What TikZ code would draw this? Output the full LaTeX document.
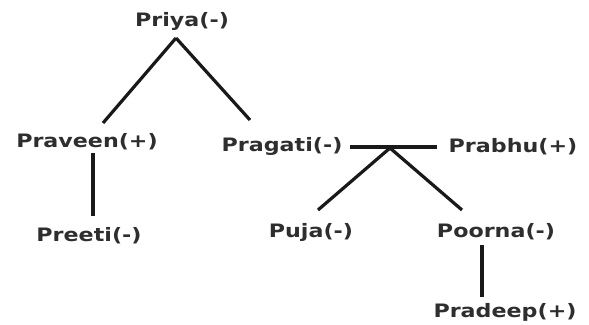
\documentclass[tikz,border=0pt]{standalone}
\usepackage{fontspec}
\setmainfont{DejaVu Sans}[FakeStretch=1.2]
\usetikzlibrary{calc}
\definecolor{txt}{HTML}{2E2E2E}
\begin{document}
\begin{tikzpicture}[x=1pt,y=-1pt,
  lbl/.style={font=\bfseries\fontsize{18.5}{20}\selectfont, text=txt, inner sep=0pt},
  link/.style={line width=3.2pt, draw=black!90}]
\useasboundingbox[fill=white] (0,0) rectangle (589,324);
\node[lbl] (priya)   at (182,21)  {Priya(-)};
\node[lbl] (praveen) at (87,142)  {Praveen(+)};
\node[lbl] (pragati) at (282,146) {Pragati(-)};
\node[lbl] (prabhu)  at (513,147) {Prabhu(+)};
\node[lbl] (preeti)  at (89,236)  {Preeti(-)};
\node[lbl] (puja)    at (311,232) {Puja(-)};
\node[lbl] (poorna)  at (496,232) {Poorna(-)};
\node[lbl] (pradeep) at (505,312) {Pradeep(+)};
\coordinate (j1) at (176,38);
\coordinate (j2) at (390,148);
\draw[link] (j1) -- ($(praveen)+(16,-19)$);
\draw[link] (j1) -- ($(pragati)+(-32,-26)$);
\draw[link] ($(praveen)+(6,11)$) -- ($(preeti)+(4,-20)$);
\draw[link] ($(pragati)+(68,1)$) -- ($(prabhu)+(-76,0)$);
\draw[link] (j2) -- ($(puja)+(7,-22)$);
\draw[link] (j2) -- ($(poorna)+(-34,-22)$);
\draw[link] ($(poorna)+(-14,13)$) -- ($(pradeep)+(-23,-15)$);
\end{tikzpicture}
\end{document}
